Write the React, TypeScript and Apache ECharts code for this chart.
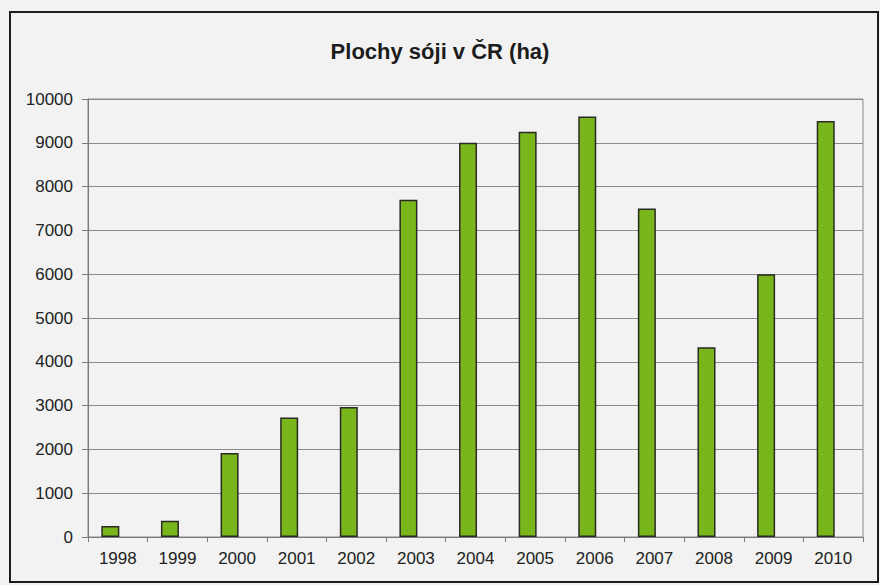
import React, { useEffect, useRef } from "react";
import * as echarts from "echarts";

const TITLE = "Plochy sóji v ČR (ha)";
const YEARS = ["1998", "1999", "2000", "2001", "2002", "2003", "2004", "2005", "2006", "2007", "2008", "2009", "2010"];
const AREA_HA = [250, 370, 1920, 2730, 2970, 7700, 9000, 9250, 9600, 7500, 4330, 6000, 9500];
const Y_MIN = 0;
const Y_MAX = 10000;
const Y_STEP = 1000;

export default function App() {
  const ref = useRef<HTMLDivElement>(null);
  useEffect(() => {
    if (!ref.current) return;
    const chart = echarts.init(ref.current, null, { renderer: "svg" });
    const font = "'Liberation Sans', Arial, sans-serif";
    chart.setOption({
      animation: false,
      backgroundColor: "#f1f2f1",
      textStyle: { fontFamily: font },
      title: {
        text: TITLE,
        left: "center",
        top: 35,
        textStyle: { fontFamily: font, fontSize: 22, fontWeight: "bold", color: "#1c1c1c" },
      },
      graphic: [
        {
          type: "rect",
          shape: { x: 10, y: 12, width: 868, height: 570 },
          style: { fill: "none", stroke: "#1e1e1e", lineWidth: 2 },
          silent: true,
        },
        {
          type: "rect",
          shape: { x: 88, y: 99, width: 775, height: 438 },
          style: { fill: "none", stroke: "#8a8a8a", lineWidth: 1 },
          silent: true,
          z: 0,
        },
      ],
      grid: { left: 88, right: 17, top: 99, bottom: 48, containLabel: false },
      xAxis: {
        type: "category",
        data: YEARS,
        boundaryGap: true,
        axisLine: { show: true, lineStyle: { color: "#7a7a7a", width: 1 } },
        axisTick: { show: true, alignWithLabel: false, length: 5, inside: false, lineStyle: { color: "#7a7a7a" } },
        axisLabel: { color: "#222", fontSize: 17, fontFamily: font, margin: 13, interval: 0 },
      },
      yAxis: {
        type: "value",
        min: Y_MIN,
        max: Y_MAX,
        interval: Y_STEP,
        axisLine: { show: true, lineStyle: { color: "#7a7a7a", width: 1 } },
        axisTick: { show: true, length: 6, lineStyle: { color: "#7a7a7a" } },
        axisLabel: { color: "#222", fontSize: 17, fontFamily: font, margin: 15, formatter: (v: number) => String(v) },
        splitLine: { show: true, lineStyle: { color: "#8c8a8c", width: 1 } },
      },
      series: [
        {
          type: "bar",
          name: "Plochy",
          data: AREA_HA,
          barWidth: 18,
          barGap: "-17%",
          itemStyle: { color: "#79b61c", borderColor: "#2a2a22", borderWidth: 1.5 },
        },
        {
          type: "bar",
          name: "_",
          data: [],
          barWidth: 18,
        },
      ],
    });
    return () => chart.dispose();
  }, []);
  return (
    <div
      ref={ref}
      style={{ position: "fixed", left: 0, top: 0, width: 880, height: 585 }}
    />
  );
}
